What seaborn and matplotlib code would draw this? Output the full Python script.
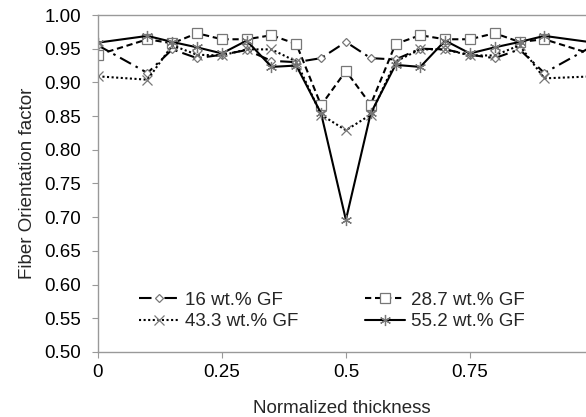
import pandas as pd
import matplotlib.pyplot as plt
import seaborn as sns

# normalized thickness positions
thickness = [0, 0.1, 0.15, 0.2, 0.25, 0.3, 0.35, 0.4, 0.45, 0.5,
             0.55, 0.6, 0.65, 0.7, 0.75, 0.8, 0.85, 0.9, 1.0]

gf_16 = [0.955, 0.914, 0.949, 0.936, 0.941, 0.948, 0.932, 0.930, 0.936, 0.960,
         0.936, 0.934, 0.950, 0.949, 0.941, 0.936, 0.949, 0.914, 0.955]
gf_287 = [0.941, 0.964, 0.958, 0.973, 0.964, 0.964, 0.970, 0.957, 0.866, 0.917,
          0.867, 0.957, 0.970, 0.964, 0.964, 0.973, 0.960, 0.964, 0.941]
gf_433 = [0.909, 0.904, 0.955, 0.941, 0.940, 0.949, 0.949, 0.931, 0.852, 0.829,
          0.852, 0.931, 0.949, 0.949, 0.940, 0.940, 0.955, 0.906, 0.909]
gf_552 = [0.959, 0.969, 0.960, 0.952, 0.943, 0.962, 0.923, 0.925, 0.854, 0.696,
          0.854, 0.926, 0.923, 0.962, 0.943, 0.952, 0.960, 0.969, 0.959]

labels = ["16 wt.% GF", "28.7 wt.% GF", "43.3 wt.% GF", "55.2 wt.% GF"]
x_ticks = [0, 0.25, 0.5, 0.75]
x_tick_labels = ["0", "0.25", "0.5", "0.75"]
y_ticks = [0.50, 0.55, 0.60, 0.65, 0.70, 0.75, 0.80, 0.85, 0.90, 0.95, 1.00]

sns.set_style("white")
plt.rcParams['font.family'] = ['Liberation Sans', 'DejaVu Sans']

fig = plt.figure(figsize=(5.86, 4.17), dpi=100)
ax = fig.add_axes([0.167, 0.156, 0.833, 0.808])

styles = [
    dict(linestyle=(0, (6, 2.5, 1.2, 2.5)), marker="D", markersize=4.5),
    dict(linestyle=(0, (3, 1.8)), marker="s", markersize=7),
    dict(linestyle=(0, (1, 1.2)), marker="x", markersize=7),
    dict(linestyle="-", marker=(6, 2, 0), markersize=8),
]

for vals, lab, st in zip([gf_16, gf_287, gf_433, gf_552], labels, styles):
    df = pd.DataFrame({"thickness": thickness, "factor": vals})
    sns.lineplot(data=df, x="thickness", y="factor", ax=ax, sort=False,
                 color="black", linewidth=1.5, label=lab,
                 linestyle=st["linestyle"], marker=st["marker"],
                 markersize=st["markersize"], markerfacecolor="white",
                 markeredgecolor="#777777", markeredgewidth=0.9)

ax.set_xlim(0, 0.984)
ax.set_ylim(0.5, 1.0)
ax.set_xticks(x_ticks)
ax.set_xticklabels(x_tick_labels)
ax.set_yticks(y_ticks)
ax.set_yticklabels([f"{v:.2f}" for v in y_ticks])
ax.tick_params(axis="both", labelsize=13.5, colors="#999999", labelcolor="black",
               direction="out", length=4, width=0.8, bottom=True, left=True)
ax.tick_params(axis="x", pad=5)
ax.tick_params(axis="y", pad=8)

for side in ["left", "bottom", "top"]:
    ax.spines[side].set_color("#999999")
    ax.spines[side].set_linewidth(1.0)
ax.spines["right"].set_visible(False)

ax.set_xlabel("Normalized thickness", fontsize=13.5, labelpad=13)
ax.set_ylabel("Fiber Orientation factor", fontsize=13.5, labelpad=6)

# row-major legend order like the original
handles, labs = ax.get_legend_handles_labels()
order = [0, 2, 1, 3]
ax.legend([handles[i] for i in order], [labs[i] for i in order],
          loc="lower left", bbox_to_anchor=(0.05, 0.014), ncol=2, frameon=False,
          fontsize=13.5, handlelength=2.1, handletextpad=0.32, columnspacing=3.6,
          labelspacing=0.25)

fig.savefig("out.png", dpi=100)
